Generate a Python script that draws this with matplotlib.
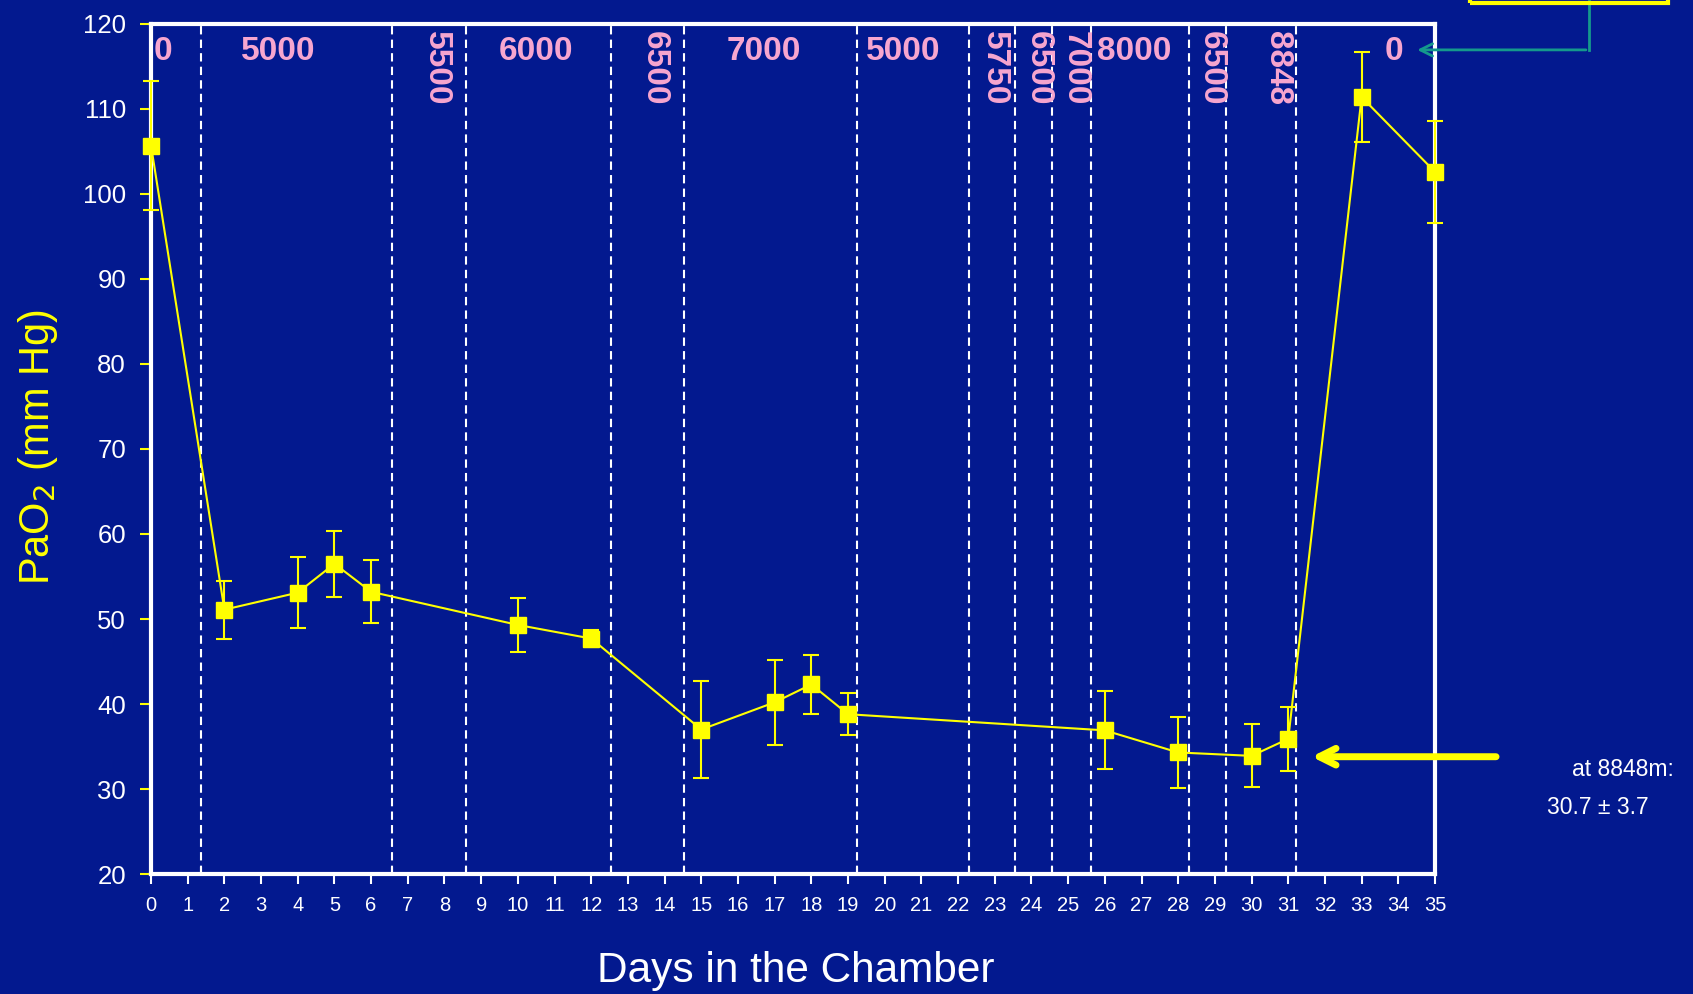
import matplotlib.pyplot as plt
from matplotlib.patches import Rectangle

plt.rcParams['font.family'] = ['Liberation Sans', 'DejaVu Sans']

# mean PaO2 per day in the chamber, with SD
days = [0, 2, 4, 5, 6, 10, 12, 15, 17, 18, 19, 26, 28, 30, 31, 33, 35]
pao2 = [105.7, 51.1, 53.1, 56.5, 53.2, 49.3, 47.7, 37.0, 40.2, 42.3, 38.8,
        36.9, 34.3, 33.9, 35.9, 111.4, 102.6]
sd = [7.6, 3.4, 4.2, 3.9, 3.7, 3.2, 1.0, 5.7, 5.0, 3.5, 2.5,
      4.6, 4.2, 3.7, 3.8, 5.3, 6.0]

# day boundaries between altitude stages
stage_edges = [1.35, 6.58, 8.58, 12.54, 14.52, 19.25, 22.3, 23.55, 24.55,
               25.63, 28.3, 29.3, 31.2]

# simulated altitude (m), written flat or sideways
alt_flat = ['0', '5000', '6000', '7000', '5000', '8000', '0']
alt_flat_x = [0.32, 3.48, 10.5, 16.7, 20.5, 26.8, 33.88]
alt_side = ['5500', '6500', '5750', '6500', '7000', '6500', '8848']
alt_side_x = [7.78, 13.73, 22.98, 24.19, 25.19, 28.9, 30.72]

bg = '#03198f'
yellow = '#ffff00'
pink = '#f7a6cf'

fig = plt.figure(figsize=(16.93, 9.94), dpi=100, facecolor=bg)
ax = fig.add_axes([0.0892, 0.1207, 0.7584, 0.8552])
ax.set_facecolor(bg)

for x in stage_edges:
    ax.axvline(x, color='white', lw=1.5, linestyle=(0, (4, 2.5)), zorder=1)

lines = ax.errorbar(days, pao2, yerr=sd, color=yellow, marker='s', ms=11,
                    lw=1.5, elinewidth=1.5, capsize=6, capthick=1.5, zorder=5)
for a in lines.lines[0:1] + tuple(lines.lines[1]) + tuple(lines.lines[2]):
    a.set_clip_on(False)

for lab, x in zip(alt_flat, alt_flat_x):
    ax.text(x, 118.6, lab, color=pink, fontsize=24, fontweight='bold',
            ha='center', va='top')
for lab, x in zip(alt_side, alt_side_x):
    ax.text(x, 119.2, lab, color=pink, fontsize=24, fontweight='bold',
            ha='center', va='top', rotation=-90)

ax.set_xlim(0, 35)
ax.set_ylim(20, 120)
ax.set_xticks(range(0, 36))
ax.set_xticks(stage_edges, minor=True)
ax.set_yticks(range(20, 121, 10))

for s in ax.spines.values():
    s.set_color('white')
    s.set_linewidth(3)

ax.tick_params(axis='x', which='major', direction='out', colors='white',
               length=7, width=1.5, labelsize=14.5, pad=9)
ax.tick_params(axis='x', which='minor', direction='in', colors='white',
               length=5, width=1.5)
ax.tick_params(axis='y', direction='out', colors=yellow, labelcolor='white',
               length=8, width=1.5, labelsize=18.5, pad=10)
yt = ax.yaxis.get_major_ticks()
yt[0].tick1line.set_color('white')
yt[-1].tick1line.set_color('white')

ax.set_xlabel('Days in the Chamber', color='white', fontsize=30.5)
ax.xaxis.set_label_coords(0.502, -0.090)
ax.set_ylabel('PaO$_2$ (mm Hg)', color=yellow, fontsize=30)
ax.yaxis.set_label_coords(-0.071, 0.502)

# arrow pointing at the 8848 m value
ax.annotate('', xy=(31.56, 33.8), xytext=(36.74, 33.8),
            arrowprops=dict(arrowstyle='->', color=yellow, lw=5,
                            mutation_scale=30),
            annotation_clip=False)
fig.text(1623 / 1693, 1 - 769 / 994, 'at 8848m:', color='white', fontsize=16.5,
         ha='center', va='center')
fig.text(1598 / 1693, 1 - 808 / 994, '30.7 \u00b1 3.7', color='white',
         fontsize=16.5, ha='center', va='center')

# box at the top edge with its teal pointer to the last "0"
teal = '#14998c'
ax.plot([39.19, 39.19], [116.95, 124], color=teal, lw=2, clip_on=False)
ax.annotate('', xy=(34.44, 116.95), xytext=(39.19, 116.95),
            arrowprops=dict(arrowstyle='->', color=teal, lw=2,
                            mutation_scale=22),
            annotation_clip=False)
fig.add_artist(Rectangle((1470 / 1693, 1 - 3 / 994), 198 / 1693, 0.05,
                         transform=fig.transFigure, fill=False,
                         edgecolor=yellow, lw=3))

fig.savefig('out.png', dpi=100, facecolor=bg)
